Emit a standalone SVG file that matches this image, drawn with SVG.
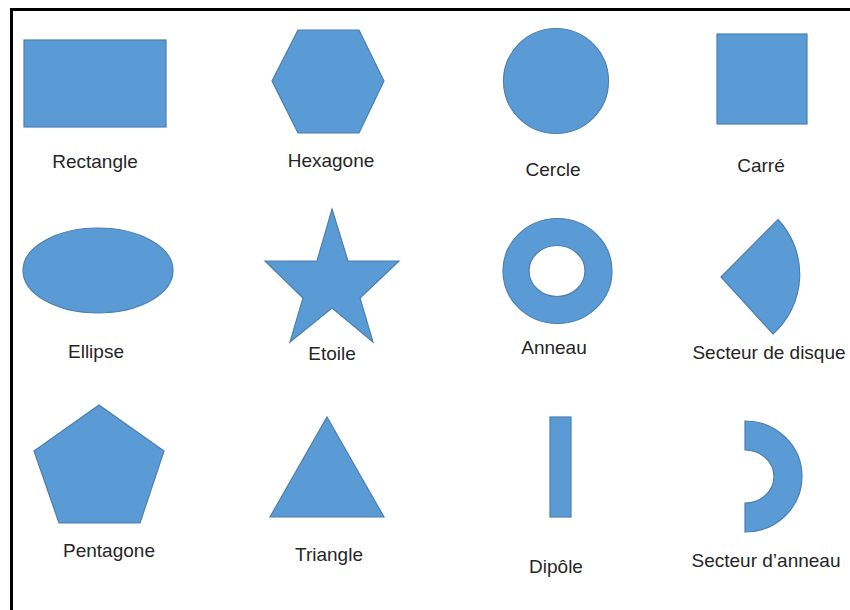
<svg xmlns="http://www.w3.org/2000/svg" width="850" height="610" viewBox="0 0 850 610">
<style>
.s{fill:#5B9BD5;stroke:#4A7FB0;stroke-width:1.2}
.t{font-family:"Liberation Sans",Arial,sans-serif;font-size:19px;fill:#262626;text-anchor:middle}
</style>
<rect width="850" height="610" fill="#fff"/>
<rect x="11.5" y="9.5" width="900" height="700" fill="none" stroke="#000" stroke-width="3"/>
<g id="rectangle"><rect class="s" x="24" y="40" width="142" height="87"/><text class="t" x="95" y="168">Rectangle</text></g>
<g id="hexagone"><polygon class="s" points="298,30 359,30 384,81 359,133 298,133 272,81"/><text class="t" x="331" y="167">Hexagone</text></g>
<g id="cercle"><circle class="s" cx="556" cy="81" r="52.5"/><text class="t" x="553" y="176">Cercle</text></g>
<g id="carre"><rect class="s" x="717" y="34" width="90" height="90"/><text class="t" x="761" y="172">Carré</text></g>
<g id="ellipse"><ellipse class="s" cx="98" cy="270.5" rx="75" ry="42.5"/><text class="t" x="96" y="358">Ellipse</text></g>
<g id="etoile"><polygon class="s" points="332,209 348,261 399,261 360,298 373,342 332,308 290,342 303,298 265,261 317,261"/><text class="t" x="332" y="360">Etoile</text></g>
<g id="anneau"><path class="s" fill-rule="evenodd" d="M503,271a54.5,52.5 0 1,0 109,0a54.5,52.5 0 1,0 -109,0z M529,271a28,25.5 0 1,0 56,0a28,25.5 0 1,0 -56,0z"/><text class="t" x="554" y="354">Anneau</text></g>
<g id="secteur-disque"><path class="s" d="M721,277 L778,219.5 A80,80 0 0,1 773,334 Z"/><text class="t" x="769" y="359">Secteur de disque</text></g>
<g id="pentagone"><polygon class="s" points="99,405 164,451 140,523 59,523 34,451"/><text class="t" x="109" y="557">Pentagone</text></g>
<g id="triangle"><polygon class="s" points="327,417 384,517 270,517"/><text class="t" x="329" y="561">Triangle</text></g>
<g id="dipole"><rect class="s" x="550" y="417" width="21" height="100"/><text class="t" x="556" y="573">Dipôle</text></g>
<g id="secteur-anneau"><path class="s" d="M745,421 A57,55.5 0 0,1 745,532 L745,503 A29,26.5 0 0,0 745,450 Z"/><text class="t" x="766" y="567">Secteur d’anneau</text></g>
</svg>
